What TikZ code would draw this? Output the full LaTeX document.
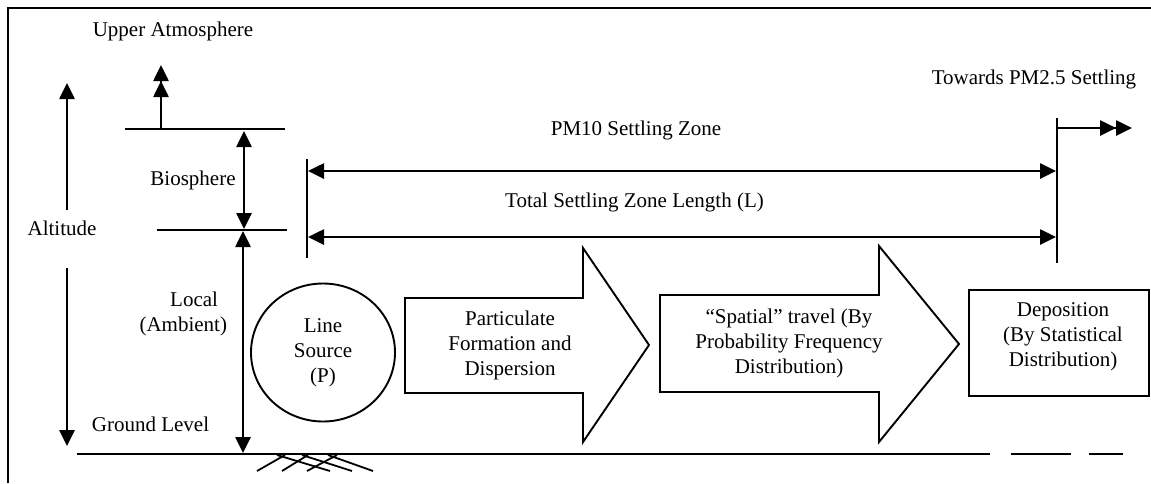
\documentclass[tikz,border=0pt]{standalone}
\usepackage{fontspec}
\setmainfont{Liberation Serif}
\usetikzlibrary{arrows.meta,shapes.geometric}
\begin{document}
\begin{tikzpicture}[x=1pt,y=-1pt,line width=2pt,
  lbl/.style={font=\fontsize{21}{25}\selectfont, inner sep=0pt, align=center},
  tri/.tip={Triangle[length=16pt,width=15pt]},
  dimarrow/.style={line width=2.6pt, tri-tri},
  uparrow/.style={line width=2.6pt, -tri},
  twotips/.style={line width=2.6pt, -{tri[sep=0pt] tri}},
  bigarrow/.style={line width=1.9pt, line join=miter},
  hatch/.style={line width=1.8pt}]
\useasboundingbox (0,0) rectangle (1151,483);

% frame
\draw[line width=2.5pt] (8,483) -- (8,8) -- (1151,8);

% height levels
\coordinate (topL) at (125,129);  \coordinate (topR) at (285,129);
\coordinate (bioL) at (157,230);  \coordinate (bioR) at (287,230);
\coordinate (gndL) at (77,454);   \coordinate (gndR) at (990,454);
\draw (topL) -- (topR);
\draw (bioL) -- (bioR);
\draw (gndL) -- (gndR);
\draw (1011,454) -- (1071,454);
\draw (1089,454) -- (1123,454);

% labels on the left
\node[lbl] (upper) at (173,31) {Upper Atmosphere};
\node[lbl] (bio) at (193,180) {Biosphere};
\node[lbl] (alt) at (62,228) {Altitude};
\node[lbl, align=right, anchor=east] (local) at (228,314) {Local\kern9pt\\(Ambient)};
\node[lbl] (ground) at (150.5,424) {Ground Level};

% vertical arrows
\coordinate (upFoot) at (161,129);  \coordinate (upTip) at (161,65);
\draw[twotips] (upFoot) -- (upTip);
\coordinate (bioTop) at (244,131);  \coordinate (bioBot) at (244,229);
\draw[dimarrow] (bioTop) -- (bioBot);
\coordinate (locTop) at (243,231);  \coordinate (locBot) at (243,453);
\draw[dimarrow] (locTop) -- (locBot);
\coordinate (altA) at (67,210);  \coordinate (altB) at (67,83);
\draw[uparrow] (altA) -- (altB);
\coordinate (altC) at (67,268);  \coordinate (altD) at (67,446);
\draw[uparrow] (altC) -- (altD);

% ground hatching under the source
\draw[hatch] (257,471) -- (285,455) (282,471) -- (308,455) (307,471) -- (337,455);
\draw[hatch] (277,455) -- (330,471) (302,455) -- (352,471) (328,455) -- (373,471);

% settling zone extents
\coordinate (zoneLT) at (307,159);  \coordinate (zoneLB) at (307,258);
\coordinate (zoneRT) at (1057,118); \coordinate (zoneRB) at (1057,263);
\draw (zoneLT) -- (zoneLB);
\draw (zoneRT) -- (zoneRB);
\draw[dimarrow] (308,171) -- (1056,171);
\draw[dimarrow] (308,237) -- (1056,237);
\node[lbl] (pm10) at (636,130) {PM10 Settling Zone};
\node[lbl] (total) at (634.5,202) {Total Settling Zone Length (L)};

% onward to finer particles
\coordinate (towStart) at (1057,128);  \coordinate (towEnd) at (1132,128);
\draw[twotips] (towStart) -- (towEnd);
\node[lbl] (towards) at (1034,79) {Towards PM2.5 Settling};

% process chain
\node[lbl, draw, ellipse, line width=1.9pt, minimum width=144pt, minimum height=138pt] (src) at (323,352.5) {Line\\Source\\(P)};

\draw[bigarrow] (405,298) -- (583,298) -- (583,248) -- (649,345) -- (583,442) -- (583,393) -- (405,393) -- cycle;
\node[lbl] (form) at (510,345) {Particulate\\Formation and\\Dispersion};

\draw[bigarrow] (660,295) -- (879,295) -- (879,246) -- (959,344) -- (879,442) -- (879,392) -- (660,392) -- cycle;
\node[lbl] (travel) at (789,343) {``Spatial'' travel (By\\Probability Frequency\\Distribution)};

\node[draw, line width=1.9pt, minimum width=180pt, minimum height=106pt, inner sep=0pt] (depbox) at (1059,343) {};
\node[lbl] (dep) at (1063,337) {Deposition\\(By Statistical\\Distribution)};
\end{tikzpicture}
\end{document}
